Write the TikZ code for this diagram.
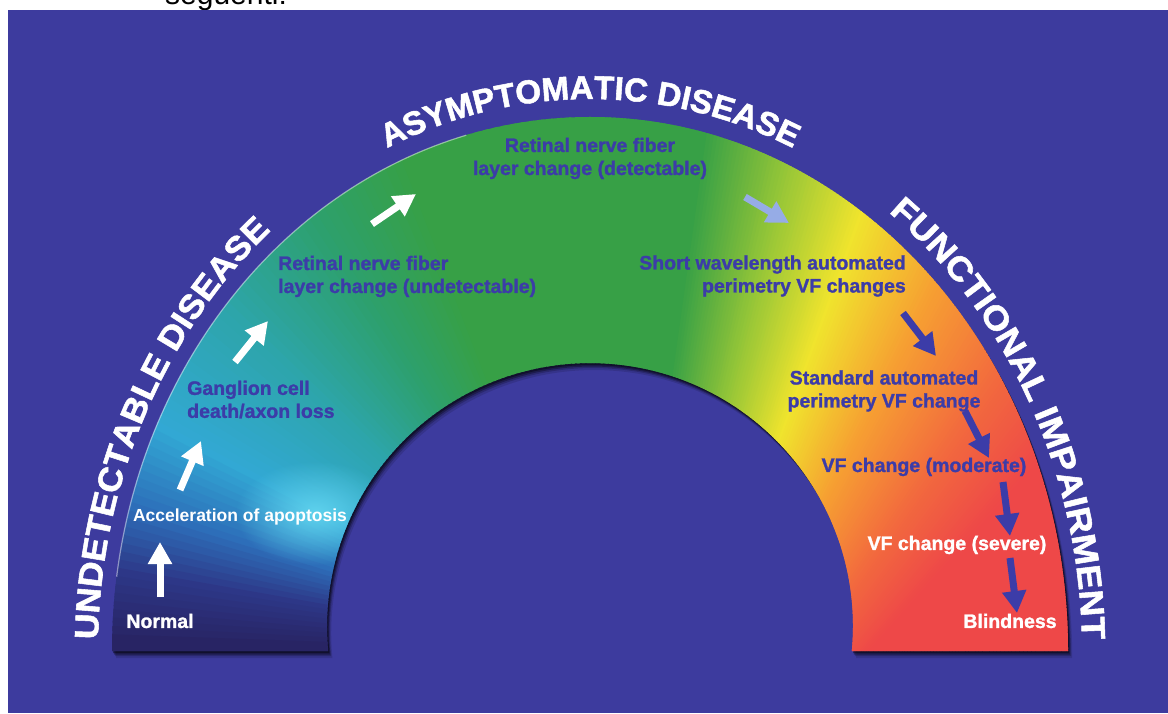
\documentclass[tikz,border=0pt]{standalone}
\usepackage{fontspec}
\setmainfont{Liberation Sans}
\newfontfamily\lblfam{Liberation Sans}[BoldFeatures={FakeBold=1.3}]
\newfontfamily\hdfam{Liberation Sans}[BoldFeatures={FakeBold=1.6}]
\newfontfamily\hdfamwide{Liberation Sans}[BoldFeatures={FakeBold=1.6, FakeStretch=1.06}]
\newfontfamily\hdfammid{Liberation Sans}[BoldFeatures={FakeBold=1.6, FakeStretch=1.1}]
\usetikzlibrary{arrows.meta,decorations.text,fadings}
\definecolor{bgblue}{RGB}{61,59,158}
\definecolor{lblblue}{RGB}{60,60,168}
\definecolor{cR}{RGB}{238,72,72}
\definecolor{cOR}{RGB}{242,105,62}
\definecolor{cO}{RGB}{246,160,50}
\definecolor{cY}{RGB}{240,228,45}
\definecolor{cYG}{RGB}{150,198,55}
\definecolor{cG}{RGB}{55,160,70}
\definecolor{cGT}{RGB}{45,160,110}
\definecolor{cT}{RGB}{45,165,170}
\definecolor{cC}{RGB}{50,168,212}
\definecolor{cB}{RGB}{45,110,185}
\definecolor{cDB}{RGB}{45,55,135}
\definecolor{cN}{RGB}{40,36,100}
\definecolor{glowc}{RGB}{100,215,240}
\definecolor{arrowlight}{RGB}{150,172,230}
\newcommand\hdtop{\hdfam\fontsize{33}{33}\selectfont\bfseries}
\newcommand\hdleft{\hdfamwide\fontsize{33.5}{33}\selectfont\bfseries}
\newcommand\hdright{\hdfammid\fontsize{33.5}{33}\selectfont\bfseries}
\tikzfading[name=glowfade, inner color=transparent!0, outer color=transparent!100]
\begin{document}
\begin{tikzpicture}[x=1pt,y=1pt,
  archshape/.style={insert path={(112,62) arc[start angle=180,end angle=0,x radius=478,y radius=534] -- (851.8,62) arc[start angle=-5.45,end angle=185.45,radius=263] -- cycle}},
  lbl/.style={font=\lblfam\bfseries\fontsize{19.5}{23}\selectfont, text=lblblue, inner sep=0pt},
  wlbl/.style={lbl, text=white},
  warrow/.style={draw=white, line width=7pt, -{Triangle[length=22pt,width=23pt]}},
  barrow/.style={warrow, draw=lblblue},
  larrow/.style={warrow, draw=arrowlight},
  arctext/.style 2 args={decorate, decoration={text along path, text={|#1|#2}, text align=center, text color=white}}
]
\useasboundingbox (0,0) rectangle (1168,713);
\fill[white] (0,0) rectangle (1168,713);
\begin{scope}
  \clip (0,703) rectangle (1168,713);
  \node[anchor=base west, inner sep=0pt, font=\fontsize{30}{30}\selectfont] (cut) at (165,708) {seguenti:};
\end{scope}
\fill[bgblue] (8,0) rectangle (1168,703);

% shadow
\foreach \o/\op in {7/0.12, 5/0.2, 3.5/0.3, 2/0.4} {
  \begin{scope}[shift={(\o*0.6,-\o)}]
    \fill[black, opacity=\op, archshape];
  \end{scope}
}

% coloured arch: left half
\begin{scope}
  \clip[archshape];
  \clip (0,0) rectangle (590.5,713);
  \begin{scope}[shift={(590,62)}]
    \foreach \sa/\sb/\ca/\cb in {80/110/cG/cG, 110/122/cG/cGT, 122/136/cGT/cT, 136/152/cT/cC, 152/162/cC/cB, 162/170/cB/cDB, 170/178/cDB/cN, 178/200/cN/cN} {
      \pgfmathtruncatemacro\nn{\sb-\sa-1}
      \foreach \i in {0,...,\nn} {
        \pgfmathtruncatemacro\pc{100*\i/(\sb-\sa)}
        \pgfmathsetmacro\angA{\sa+\i}
        \pgfmathsetmacro\angB{\sa+\i+1.6}
        \fill[\cb!\pc!\ca] (0,0) -- (\angA:800) -- (\angB:800) -- cycle;
      }
    }
  \end{scope}
  \fill[glowc, path fading=glowfade, opacity=0.9] (315,200) ellipse [x radius=80, y radius=52];
\end{scope}
% coloured arch: right half
\begin{scope}
  \clip[archshape];
  \clip (590,0) rectangle (1168,713);
  \begin{scope}[shift={(590,-250)}]
    \foreach \sa/\sb/\ca/\cb in {10/48/cR/cR, 48/55/cR/cOR, 55/63/cOR/cO, 63/70/cO/cY, 70/76/cY/cYG, 76/82/cYG/cG, 82/100/cG/cG} {
      \pgfmathtruncatemacro\nn{4*(\sb-\sa)-1}
      \foreach \i in {0,...,\nn} {
        \pgfmathtruncatemacro\pc{100*\i/(4*(\sb-\sa))}
        \pgfmathsetmacro\angA{\sa+\i/4}
        \pgfmathsetmacro\angB{\sa+\i/4+0.45}
        \fill[\cb!\pc!\ca] (0,0) -- (\angA:1200) -- (\angB:1200) -- cycle;
      }
    }
  \end{scope}
\end{scope}
\draw[white, opacity=0.45, line width=1.2pt] (590,62) ++(172:478 and 534) arc[start angle=172, end angle=105, x radius=478, y radius=534];

% curved headings
\begin{scope}[shift={(590,62)}]
  \path[arctext={\hdleft}{UNDETECTABLE DISEASE}] (194:492 and 552) arc[start angle=194, end angle=114, x radius=492, y radius=552];
  \path[arctext={\hdtop}{ASYMPTOMATIC DISEASE}] (130:492 and 552) arc[start angle=130, end angle=50, x radius=492, y radius=552];
  \path[arctext={\hdright}{FUNCTIONAL IMPAIRMENT}] (67.5:492 and 552) arc[start angle=67.5, end angle=-12.5, x radius=492, y radius=552];
\end{scope}

% labels
\node[wlbl] (normal) at (160,92) {Normal};
\node[wlbl, font=\bfseries\fontsize{17.5}{21}\selectfont] (accel) at (240,196) {Acceleration of apoptosis};
\node[lbl, anchor=west, align=left] (gang) at (187,313.5) {Ganglion cell\\death/axon loss};
\node[lbl, anchor=west, align=left] (rnfu) at (278,436.5) {Retinal nerve fiber\\layer change (undetectable)};
\node[lbl, align=center] (rnfd) at (590,554.5) {Retinal nerve fiber\\layer change (detectable)};
\node[lbl, anchor=east, align=right] (swap) at (906,437) {Short wavelength automated\\perimetry VF changes};
\node[lbl, align=center] (sap) at (884,322) {Standard automated\\perimetry VF change};
\node[lbl] (mod) at (924,246) {VF change (moderate)};
\node[wlbl] (sev) at (957,168) {VF change (severe)};
\node[wlbl] (blind) at (1010,92) {Blindness};

% arrows
\coordinate (a1s) at (160,116);  \coordinate (a1e) at (160,171);
\coordinate (a2s) at (180,223);  \coordinate (a2e) at (201,272);
\coordinate (a3s) at (235,351);  \coordinate (a3e) at (268,392);
\coordinate (a4s) at (372,489);  \coordinate (a4e) at (416,519);
\coordinate (a5s) at (745,516);  \coordinate (a5e) at (789,490);
\coordinate (a6s) at (903,400);  \coordinate (a6e) at (936,357);
\coordinate (a7s) at (965,302);  \coordinate (a7e) at (989,255);
\coordinate (a8s) at (1003,231); \coordinate (a8e) at (1010,177);
\coordinate (a9s) at (1010,155); \coordinate (a9e) at (1017,100);
\draw[warrow] (a1s) -- (a1e);
\draw[warrow] (a2s) -- (a2e);
\draw[warrow] (a3s) -- (a3e);
\draw[warrow] (a4s) -- (a4e);
\draw[larrow] (a5s) -- (a5e);
\draw[barrow] (a6s) -- (a6e);
\draw[barrow] (a7s) -- (a7e);
\draw[barrow] (a8s) -- (a8e);
\draw[barrow] (a9s) -- (a9e);
\end{tikzpicture}
\end{document}
